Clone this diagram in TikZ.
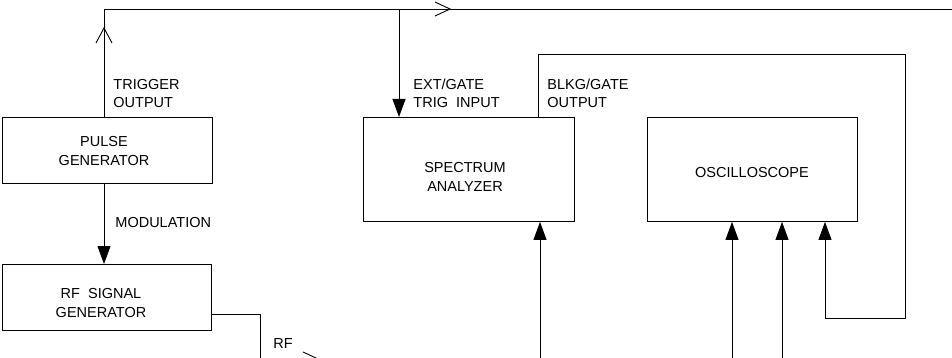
\documentclass[tikz,border=0pt]{standalone}
\usepackage{fontspec}
\setmainfont{Liberation Sans}
\usetikzlibrary{arrows.meta}
\begin{document}
\begin{tikzpicture}[x=1pt,y=-1pt,
  line width=0.9pt,
  box/.style={draw,line width=0.9pt,inner sep=0pt,anchor=north west},
  lbl/.style={inner sep=0pt,font=\fontsize{14.5}{18.5}\selectfont,align=left,anchor=base west},
  blbl/.style={inner sep=0pt,font=\fontsize{14.5}{19}\selectfont,align=center,anchor=base},
  fa/.style={-{Triangle[length=18pt,width=13pt]}},
  chev/.style={line width=0.9pt}]
\useasboundingbox (0,0) rectangle (952,358);
% boxes
\node[box,minimum width=210pt,minimum height=66pt] (pg) at (2,117) {};
\node[box,minimum width=209pt,minimum height=66pt] (rf) at (2,264) {};
\node[box,minimum width=211pt,minimum height=104pt] (sa) at (363,117) {};
\node[box,minimum width=210pt,minimum height=104pt] (osc) at (647,117) {};
% box texts
\node[blbl] (tpg) at (104,166) {PULSE\\GENERATOR};
\node[blbl] (trf) at (101,317) {RF\ \ SIGNAL\\GENERATOR};
\node[blbl] (tsa) at (465,192) {SPECTRUM\\ANALYZER};
\node[blbl] (tosc) at (752,178) {OSCILLOSCOPE};
% labels
\node[lbl] (ltrig) at (113,108) {TRIGGER\\OUTPUT};
\node[lbl] (lext) at (413,108) {EXT/GATE\\TRIG\ \ INPUT};
\node[lbl] (lblkg) at (547,108) {BLKG/GATE\\OUTPUT};
\node[lbl] (lmod) at (115,227) {MODULATION};
\node[lbl] (lrf) at (273,348) {RF};
% coordinates
\coordinate (tc) at (104,9);
\coordinate (tend) at (952,9);
\coordinate (ext) at (399,9);
\coordinate (rfc) at (260,314);
\coordinate (rfend) at (260,358);
\coordinate (sain) at (540,358);
\coordinate (o1) at (732,358);
\coordinate (o2) at (782,358);
\coordinate (b1) at (538,54);
\coordinate (b2) at (905,54);
\coordinate (b3) at (905,318);
\coordinate (b4) at (825,318);
\coordinate (s1) at (303,352);
\coordinate (s2) at (318,359);
% trigger line
\draw (pg.north west -| tc) -- (tc) -- (tend);
\draw[chev] (96,43) -- (104,28) -- (112,43);
\draw[chev] (435,2) -- (450,9) -- (435,16);
% ext/gate
\draw[fa] (ext) -- (ext |- sa.north);
% modulation
\draw[fa] (pg.south west -| tc) -- (rf.north west -| tc);
% rf out
\draw (rf.east |- rfc) -- (rfc) -- (rfend);
\draw (s1) -- (s2);
% spectrum analyzer input
\draw[fa] (sain) -- (sain |- sa.south);
% oscilloscope inputs
\draw[fa] (o1) -- (o1 |- osc.south);
\draw[fa] (o2) -- (o2 |- osc.south);
% blanking loop
\draw[fa] (sa.north -| b1) -- (b1) -- (b2) -- (b3) -- (b4) -- (b4 |- osc.south);
\end{tikzpicture}
\end{document}
